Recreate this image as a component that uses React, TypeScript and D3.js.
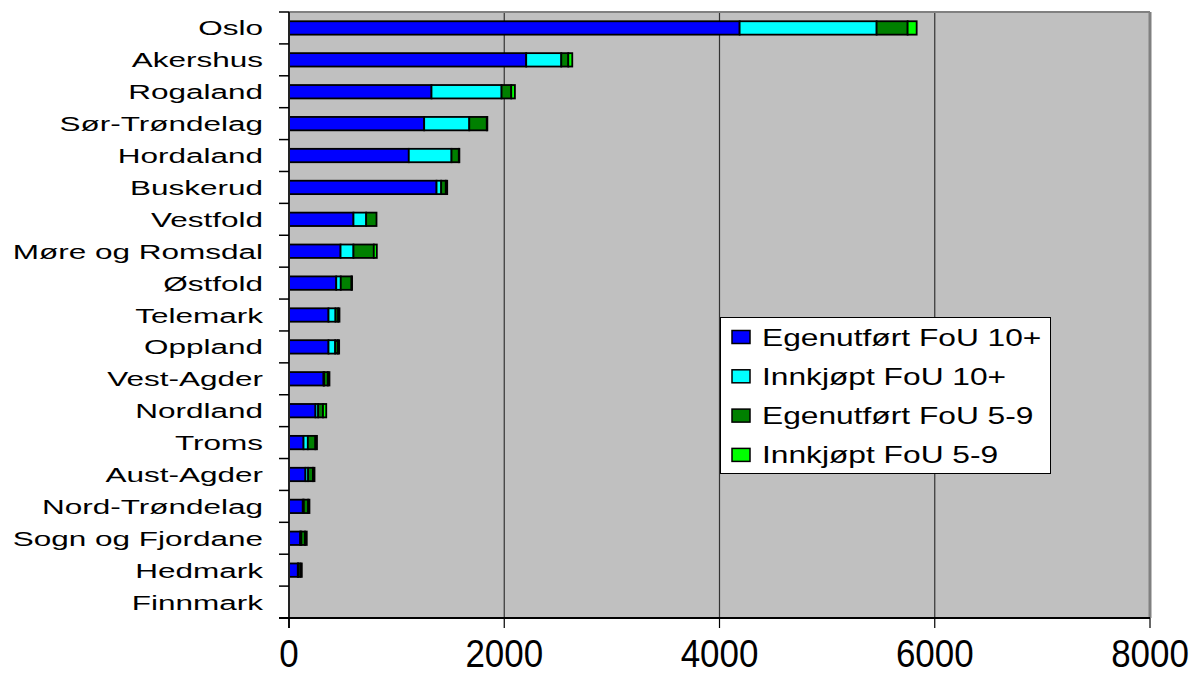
import React from "react";
import * as d3 from "d3";

const counties = [
  "Oslo", "Akershus", "Rogaland", "Sør-Trøndelag", "Hordaland", "Buskerud",
  "Vestfold", "Møre og Romsdal", "Østfold", "Telemark", "Oppland", "Vest-Agder",
  "Nordland", "Troms", "Aust-Agder", "Nord-Trøndelag", "Sogn og Fjordane",
  "Hedmark", "Finnmark",
];

const egen10 = [4187, 2204, 1324, 1256, 1113, 1371, 599, 479, 439, 367, 367, 321, 246, 135, 153, 128, 104, 82, 0];
const innk10 = [1273, 326, 651, 419, 397, 43, 118, 120, 42, 65, 62, 5, 25, 40, 25, 10, 10, 5, 0];
const egen59 = [288, 65, 90, 163, 68, 43, 96, 189, 100, 25, 25, 35, 45, 70, 45, 40, 35, 20, 0];
const innk59 = [84, 37, 34, 5, 5, 13, 0, 28, 5, 12, 12, 15, 30, 15, 14, 12, 16, 12, 0];

const seriesNames = ["Egenutført FoU 10+", "Innkjøpt FoU 10+", "Egenutført FoU 5-9", "Innkjøpt FoU 5-9"];
const seriesColors = ["#0000ff", "#00ffff", "#008000", "#00ff00"];
const xTicks = [0, 2000, 4000, 6000, 8000];

const W = 1193;
const H = 675;
const plot = { left: 289, right: 1150, top: 12, bottom: 618 };
const font = "'Liberation Sans', Arial, sans-serif";

export default function App() {
  const x = d3.scaleLinear().domain([0, 8000]).range([plot.left, plot.right]);
  const y = d3
    .scaleBand<string>()
    .domain(counties)
    .range([plot.top, plot.bottom])
    .paddingInner(0.58)
    .paddingOuter(0.29);
  const step = y.step();

  const rows = counties.map((c, i) => ({
    county: c,
    v0: egen10[i],
    v1: innk10[i],
    v2: egen59[i],
    v3: innk59[i],
  }));
  const stacked = d3.stack<any>().keys(["v0", "v1", "v2", "v3"])(rows);

  const legendRows = seriesNames.map((n, i) => ({ name: n, color: seriesColors[i], cy: 337 + i * 39.3 }));

  return (
    <svg width={W} height={H} style={{ position: "absolute", left: 0, top: 0, background: "#fff" }}>
      <rect x={plot.left} y={plot.top} width={plot.right - plot.left} height={plot.bottom - plot.top} fill="#c0c0c0" />
      {/* grid */}
      {xTicks.slice(1, -1).map((t) => (
        <line key={t} x1={x(t)} x2={x(t)} y1={plot.top} y2={plot.bottom} stroke="#333" strokeWidth={1.2} />
      ))}
      {/* frame */}
      <line x1={plot.left} x2={plot.right} y1={plot.top} y2={plot.top} stroke="#808080" strokeWidth={2} />
      <line x1={plot.right} x2={plot.right} y1={plot.top} y2={plot.bottom} stroke="#808080" strokeWidth={3} />

      {/* bars */}
      {stacked.map((s, si) =>
        s.map((d: any, i: number) => {
          const w = x(d[1]) - x(d[0]);
          if (w <= 0) return null;
          return (
            <rect
              key={`${si}-${i}`}
              x={x(d[0])}
              y={y(counties[i])!}
              width={w}
              height={y.bandwidth()}
              fill={seriesColors[si]}
              stroke="#000"
              strokeWidth={1.8}
            />
          );
        })
      )}

      {/* axes */}
      <line x1={plot.left} x2={plot.left} y1={plot.top} y2={plot.bottom + 10} stroke="#222" strokeWidth={2} />
      <line x1={plot.left - 10} x2={plot.right} y1={plot.bottom} y2={plot.bottom} stroke="#000" strokeWidth={2} />
      {d3.range(counties.length + 1).map((k) => (
        <line
          key={k}
          x1={plot.left - 10}
          x2={plot.left}
          y1={plot.top + k * step}
          y2={plot.top + k * step}
          stroke="#000"
          strokeWidth={1.5}
        />
      ))}
      {counties.map((c) => (
        <text
          key={c}
          transform={`translate(263,${y(c)! + y.bandwidth() / 2 + 7.5}) scale(1.5,1)`}
          textAnchor="end"
          fontFamily={font}
          fontSize={21}
          fill="#000"
        >
          {c}
        </text>
      ))}
      {xTicks.map((t) => (
        <g key={t}>
          <line x1={x(t)} x2={x(t)} y1={plot.bottom} y2={plot.bottom + 10} stroke="#000" strokeWidth={1.2} />
          <text
            transform={`translate(${x(t)},667) scale(0.92,1)`}
            textAnchor="middle"
            fontFamily={font}
            fontSize={38}
            fill="#000"
          >
            {t}
          </text>
        </g>
      ))}

      {/* legend */}
      <rect x={720.5} y={317.5} width={330} height={156} fill="#fff" stroke="#000" strokeWidth={1} />
      {legendRows.map((r) => (
        <g key={r.name}>
          <rect x={732} y={r.cy - 6.5} width={18} height={13} fill={r.color} stroke="#000" strokeWidth={1.5} />
          <text
            transform={`translate(762,${r.cy + 8.5}) scale(1.35,1)`}
            fontFamily={font}
            fontSize={23.5}
            fill="#000"
          >
            {r.name}
          </text>
        </g>
      ))}
    </svg>
  );
}
